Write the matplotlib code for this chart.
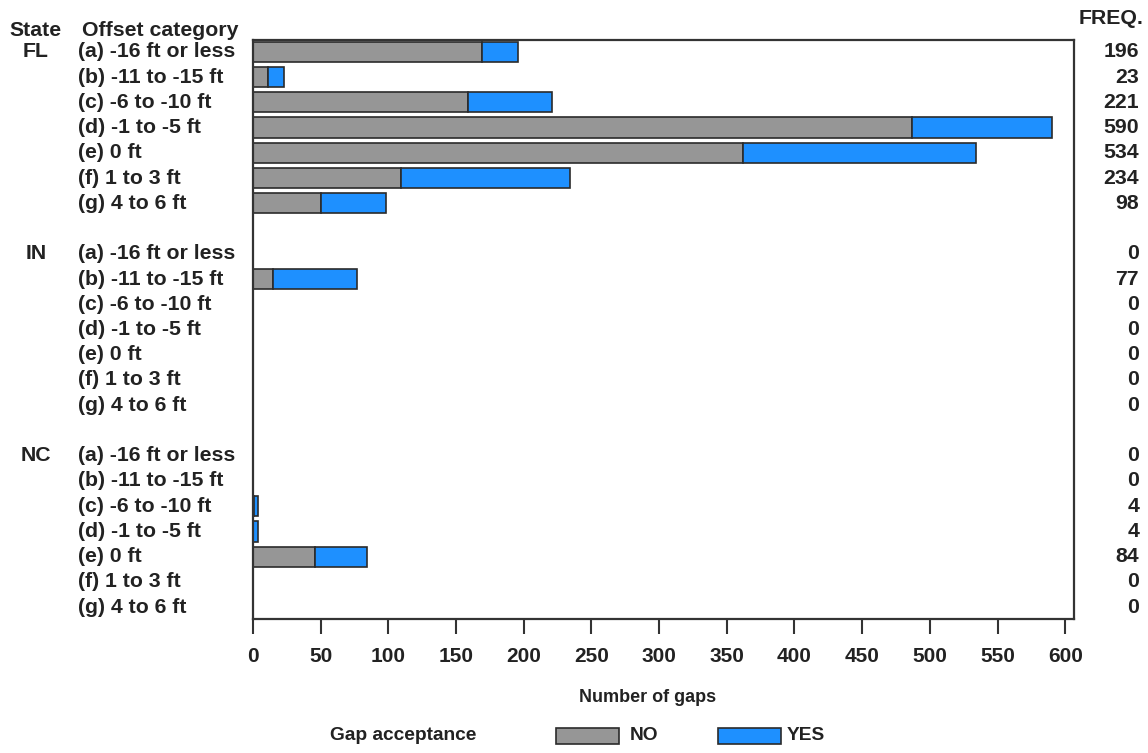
import numpy as np
import matplotlib
matplotlib.use("Agg")
import matplotlib.pyplot as plt
from matplotlib.patches import Rectangle
from matplotlib.transforms import blended_transform_factory

plt.rcParams["font.family"] = ["Liberation Sans", "DejaVu Sans"]
plt.rcParams["font.weight"] = "bold"

states = ["FL", "IN", "NC"]
categories = ["(a) -16 ft or less", "(b) -11 to -15 ft", "(c) -6 to -10 ft",
              "(d) -1 to -5 ft", "(e) 0 ft", "(f) 1 to 3 ft", "(g) 4 to 6 ft"]

# gap acceptance counts per state, in category order a..g
no_fl = [169, 11, 159, 487, 362, 109, 50]
yes_fl = [27, 12, 62, 103, 172, 125, 48]
no_in = [0, 15, 0, 0, 0, 0, 0]
yes_in = [0, 62, 0, 0, 0, 0, 0]
no_nc = [0, 0, 1, 0, 46, 0, 0]
yes_nc = [0, 0, 3, 4, 38, 0, 0]

x_ticks = [0, 50, 100, 150, 200, 250, 300, 350, 400, 450, 500, 550, 600]

GRAY = "#969696"
BLUE = "#1e90ff"
EDGE = "#2b2b2b"
TXT = "#222222"
LBL = 15.3  # label font size

W, H = 1148, 753
fig = plt.figure(figsize=(W / 100, H / 100), dpi=100)
ax = fig.add_axes([253 / W, 1 - 619 / H, (1074 - 253) / W, (619 - 40) / H])

no_all = [no_fl, no_in, no_nc]
yes_all = [yes_fl, yes_in, yes_nc]
ncat = len(categories)
step = ncat + 1  # one blank row between states

# pixel-x / data-y transform for the side labels
px_x = blended_transform_factory(fig.dpi_scale_trans, ax.transData)

for g, st in enumerate(states):
    ys = np.arange(ncat) + g * step
    no = np.array(no_all[g])
    yes = np.array(yes_all[g])
    ax.barh(ys, no, height=0.8, color=GRAY, edgecolor=EDGE, linewidth=1.2)
    ax.barh(ys, yes, left=no, height=0.8, color=BLUE, edgecolor=EDGE, linewidth=1.2)

    ax.text(36 / 100, ys[0], st, transform=px_x, ha="center", va="center",
            fontsize=LBL, fontweight="bold", color=TXT)
    for y, cat, tot in zip(ys, categories, no + yes):
        ax.text(78 / 100, y, cat, transform=px_x, ha="left", va="center",
                fontsize=LBL, fontweight="bold", color=TXT)
        ax.text(1139 / 100, y, str(tot), transform=px_x, ha="right", va="center",
                fontsize=LBL, fontweight="bold", color=TXT)

nrows = step * len(states) - 1
ax.set_ylim(nrows - 1 + 0.47, -0.47)
ax.set_xlim(0, 606.5)
ax.set_yticks([])
ax.set_xticks(x_ticks)
ax.set_xticklabels([str(t) for t in x_ticks], fontsize=15, fontweight="bold", color=TXT)
ax.tick_params(axis="x", direction="out", length=11, width=1.5, color="#333333", pad=9)
for sp in ax.spines.values():
    sp.set_color("#333333")
    sp.set_linewidth(1.6)

# headers
fig.text(35 / W, 1 - 30 / H, "State", ha="center", va="center",
         fontsize=LBL, fontweight="bold", color=TXT)
fig.text(82 / W, 1 - 30 / H, "Offset category", ha="left", va="center",
         fontsize=LBL, fontweight="bold", color=TXT)
fig.text(1143 / W, 1 - 19 / H, "FREQ.", ha="right", va="center",
         fontsize=LBL, fontweight="bold", color=TXT)

fig.text(648 / W, 1 - 698 / H, "Number of gaps", ha="center", va="center",
         fontsize=13, fontweight="bold", color=TXT)

# legend drawn by hand
ly = 1 - 736 / H
fig.text(330 / W, ly, "Gap acceptance", ha="left", va="center",
         fontsize=13.8, fontweight="bold", color=TXT)
bh = 16 / H
fig.add_artist(Rectangle((556 / W, ly - bh / 2), 63 / W, bh, transform=fig.transFigure,
                         facecolor=GRAY, edgecolor=EDGE, linewidth=1.2))
fig.text(630 / W, ly, "NO", ha="left", va="center",
         fontsize=13.8, fontweight="bold", color=TXT)
fig.add_artist(Rectangle((718 / W, ly - bh / 2), 63 / W, bh, transform=fig.transFigure,
                         facecolor=BLUE, edgecolor=EDGE, linewidth=1.2))
fig.text(787 / W, ly, "YES", ha="left", va="center",
         fontsize=13.8, fontweight="bold", color=TXT)

fig.savefig("out.png", dpi=100, facecolor="white")
